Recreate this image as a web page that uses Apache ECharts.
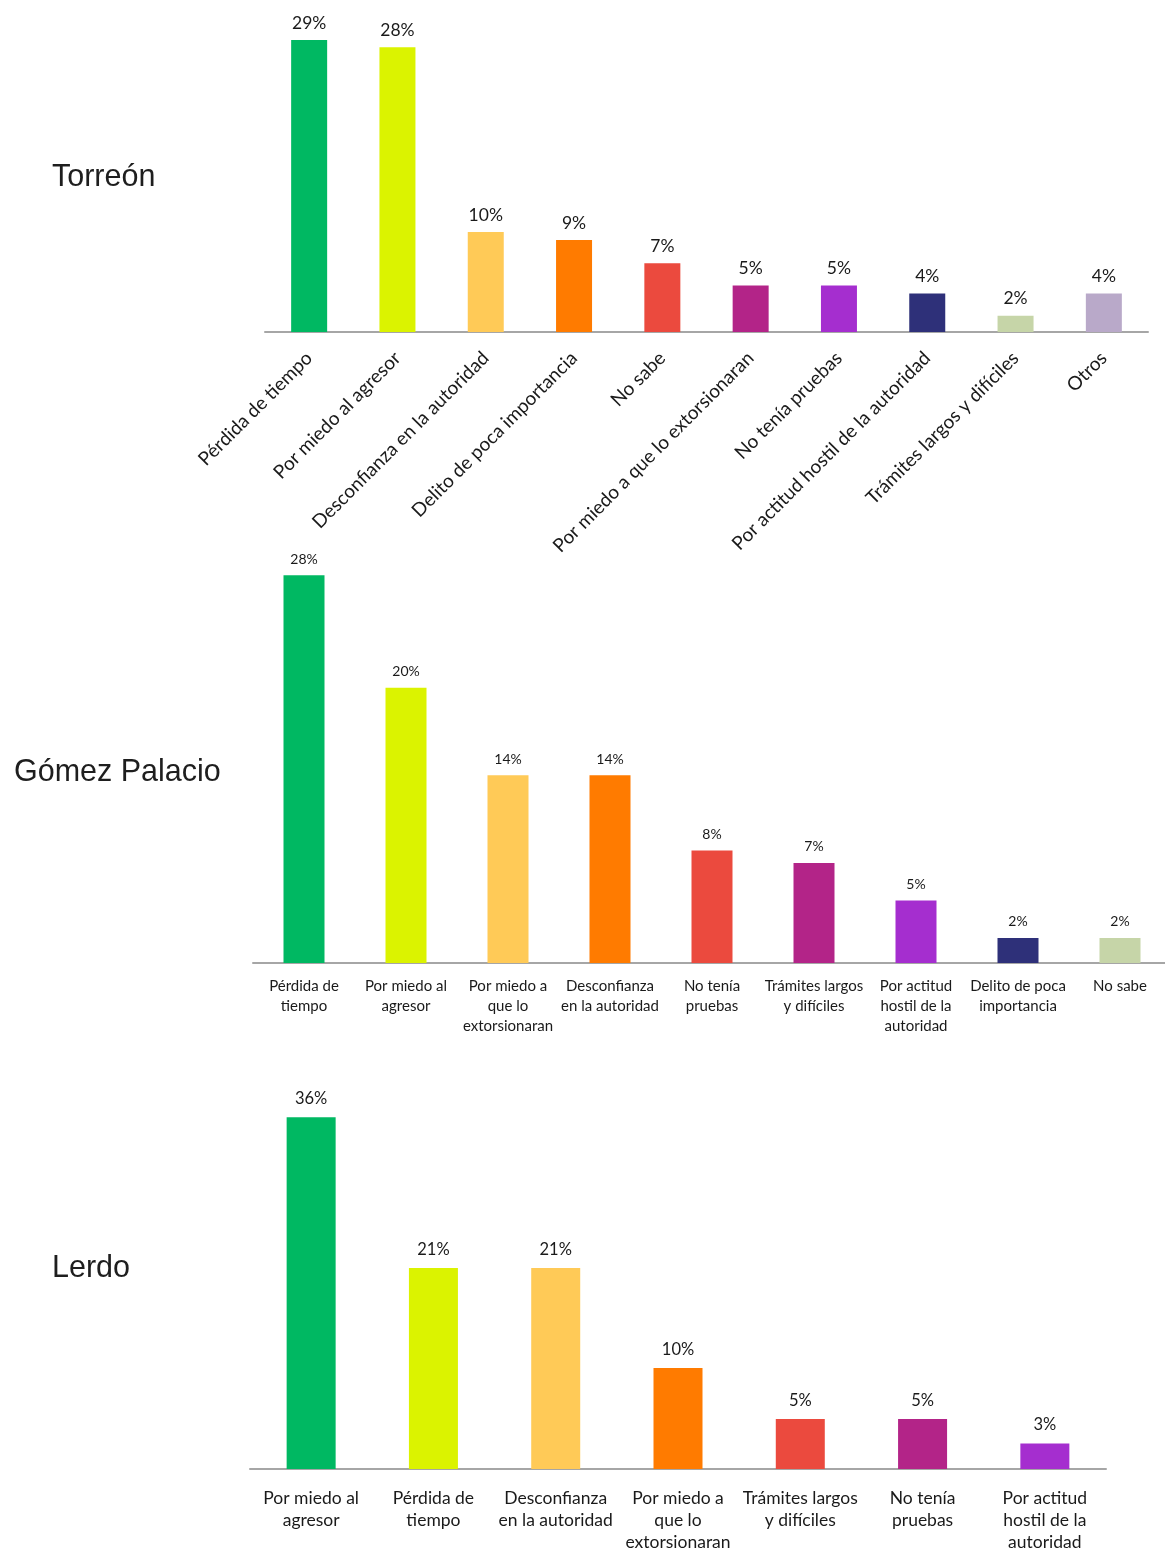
<!DOCTYPE html>
<html>
<head>
<meta charset="utf-8">
<script src="https://cdn.jsdelivr.net/npm/echarts@6/dist/echarts.min.js"></script>
<style>
html,body{margin:0;padding:0;background:#fff;overflow:hidden;}
#chart{width:1180px;height:1553px;}
</style>
</head>
<body>
<div id="chart"></div>
<script>
// ---- Data ----
const titles = ['Torreón', 'Gómez Palacio', 'Lerdo'];

const torreonCategories = ['Pérdida de tiempo', 'Por miedo al agresor', 'Desconfianza en la autoridad', 'Delito de poca importancia', 'No sabe', 'Por miedo a que lo extorsionaran', 'No tenía pruebas', 'Por actitud hostil de la autoridad', 'Trámites largos y difíciles', 'Otros'];
const torreonValues = [28.9, 28.2, 9.9, 9.1, 6.8, 4.6, 4.6, 3.8, 1.6, 3.8];

const gomezCategories = ['Pérdida de\ntiempo', 'Por miedo al\nagresor', 'Por miedo a\nque lo\nextorsionaran', 'Desconfianza\nen la autoridad', 'No tenía\npruebas', 'Trámites largos\ny difíciles', 'Por actitud\nhostil de la\nautoridad', 'Delito de poca\nimportancia', 'No sabe'];
const gomezValues = [27.9, 19.8, 13.5, 13.5, 8.1, 7.2, 4.5, 1.8, 1.8];

const lerdoCategories = ['Por miedo al\nagresor', 'Pérdida de\ntiempo', 'Desconfianza\nen la autoridad', 'Por miedo a\nque lo\nextorsionaran', 'Trámites largos\ny difíciles', 'No tenía\npruebas', 'Por actitud\nhostil de la\nautoridad'];
const lerdoValues = [35.9, 20.5, 20.5, 10.3, 5.1, 5.1, 2.6];

const palette = ['#00B862', '#DBF300', '#FFCA57', '#FF7B00', '#EB4A3E', '#B32488', '#A52ECF', '#2E3079', '#C6D5A8', '#B9A9C9'];

// ---- Chart ----
const FONT = 'Lato, "Open Sans", sans-serif';
const TITLE_FONT = '"Liberation Sans", Arial, sans-serif';
const W = 1180;
const H = 1553;
const chart = echarts.init(document.getElementById('chart'), null, {renderer: 'canvas'});

function xAxisCfg(gridIndex, data, labelOpts) {
  return {
    type: 'category', gridIndex: gridIndex, data: data,
    axisLine: {show: true, lineStyle: {color: '#A6A6A6', width: 2}},
    axisTick: {show: false},
    axisLabel: Object.assign({color: '#1a1a1a', fontFamily: FONT, interval: 0}, labelOpts)
  };
}
function yAxisCfg(gridIndex, max) {
  return {type: 'value', gridIndex: gridIndex, min: 0, max: max, show: false, splitLine: {show: false}};
}
function seriesCfg(idx, data, barWidth, fontSize, distance) {
  return {
    type: 'bar', xAxisIndex: idx, yAxisIndex: idx, data: data,
    barWidth: barWidth,
    itemStyle: {color: p => palette[p.dataIndex % palette.length]},
    label: {
      show: true, position: 'top', distance: distance,
      color: '#1a1a1a', fontFamily: FONT, fontSize: fontSize,
      formatter: p => Math.round(p.value) + '%'
    },
    emphasis: {disabled: true},
    animation: false
  };
}

const titleStyle = {fontFamily: TITLE_FONT, fontWeight: 'normal', fontSize: 30.5, color: '#1e1e1e'};
const option = {
  backgroundColor: '#fff',
  animation: false,
  title: [
    {text: titles[0], left: 47, top: 157, textStyle: titleStyle},
    {text: titles[1], left: 9, top: 752, textStyle: titleStyle},
    {text: titles[2], left: 47, top: 1248, textStyle: titleStyle}
  ],
  grid: [
    {left: 265, right: W - 1148, top: 29, bottom: H - 332},
    {left: 253, right: W - 1171, top: 546, bottom: H - 963},
    {left: 250, right: W - 1106, top: 1077, bottom: H - 1475}
  ],
  xAxis: [
    xAxisCfg(0, torreonCategories, {rotate: 45, fontSize: 19, margin: 23}),
    xAxisCfg(1, gomezCategories, {fontSize: 15, lineHeight: 20, margin: 13}),
    xAxisCfg(2, lerdoCategories, {fontSize: 17.5, lineHeight: 22, margin: 18})
  ],
  yAxis: [yAxisCfg(0, 30), yAxisCfg(1, 30), yAxisCfg(2, 40)],
  series: [
    seriesCfg(0, torreonValues, 36, 17.5, 8),
    seriesCfg(1, gomezValues, 41, 14, 9),
    seriesCfg(2, lerdoValues, 49, 16.5, 10)
  ]
};
chart.setOption(option);
</script>
</body>
</html>
